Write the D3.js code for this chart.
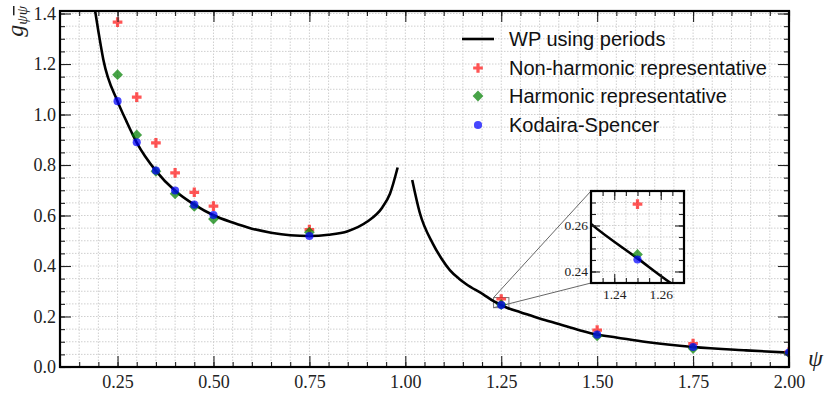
<!DOCTYPE html>
<html>
<head>
<meta charset="utf-8">
<script src="https://cdn.jsdelivr.net/npm/d3@7"></script>
<style>
  body { margin: 0; background: #fff; }
  svg { display: block; }
  .tick text { font-family: "Liberation Serif", serif; fill: #222; }
</style>
</head>
<body>
<svg id="chart" width="830" height="398"></svg>
<script>
// sample points
var xPts = [0.25, 0.30, 0.35, 0.40, 0.45, 0.50, 0.75, 1.25, 1.50, 1.75, 2.00];
var nonHarm = [1.366, 1.069, 0.888, 0.769, 0.692, 0.637, 0.544, 0.2693, 0.146, 0.093, 0.059];
var harm = [1.158, 0.919, 0.775, 0.686, 0.636, 0.586, 0.534, 0.2474, 0.123, 0.073, 0.055];
var kodaira = [1.053, 0.890, 0.778, 0.699, 0.643, 0.602, 0.519, 0.2452, 0.128, 0.079, 0.057];

// WP curve, two branches
var wpLeftX = [0.19, 0.20, 0.213, 0.25, 0.2735, 0.30, 0.35, 0.40, 0.45, 0.50, 0.55, 0.60, 0.65, 0.70, 0.75, 0.80, 0.85, 0.90, 0.94, 0.96, 0.98];
var wpLeftY = [1.425, 1.33, 1.217, 1.052, 0.972, 0.889, 0.777, 0.698, 0.643, 0.601, 0.572, 0.548, 0.532, 0.522, 0.519, 0.524, 0.538, 0.575, 0.632, 0.686, 0.79];
var wpRightX = [1.018, 1.0375, 1.072, 1.095, 1.116, 1.14, 1.159, 1.203, 1.23, 1.25, 1.265, 1.30, 1.35, 1.40, 1.454, 1.50, 1.55, 1.628, 1.75, 1.888, 2.00];
var wpRightY = [0.741, 0.612, 0.488, 0.428, 0.384, 0.350, 0.328, 0.288, 0.2607, 0.2457, 0.2345, 0.217, 0.192, 0.170, 0.146, 0.1285, 0.117, 0.099, 0.0794, 0.066, 0.057];

var xMajor = [0.25, 0.50, 0.75, 1.00, 1.25, 1.50, 1.75, 2.00];
var yMajor = [0.0, 0.2, 0.4, 0.6, 0.8, 1.0, 1.2, 1.4];
var insetXMajor = [1.24, 1.26];
var insetYMajor = [0.24, 0.26];

var legendLabels = ["WP using periods", "Non-harmonic representative", "Harmonic representative", "Kodaira-Spencer"];

var svg = d3.select("#chart");
var L = 60, R = 789, T = 11, B = 367;

var x = d3.scaleLinear().domain([0.1, 2.0]).range([L, R]);
var y = d3.scaleLinear().domain([0, 1.41]).range([B, T]);

function steps(a, b, s) {
    var out = [];
    for (var i = 0; a + i * s <= b + 1e-9; i++) out.push(+(a + i * s).toFixed(4));
    return out;
}
var xMinor = steps(0.1, 2.0, 0.05);
var yMinor = steps(0, 1.4, 0.05);

var redC = "rgba(255,20,20,0.72)",
    greenC = "rgba(0,128,0,0.72)",
    blueC = "rgba(0,0,255,0.72)";

var plusSym = d3.symbol().type(d3.symbolCross).size(52);
var diaSym = d3.symbol().type(d3.symbolSquare).size(58);
var dotSym = d3.symbol().type(d3.symbolCircle).size(52);

svg.append("defs").append("clipPath").attr("id", "clipMain")
    .append("rect").attr("x", L).attr("y", T).attr("width", R - L).attr("height", B - T);

// grid
function drawGrid(g, xs, ys, xv, yv) {
    g.selectAll("line.gx").data(xv).enter().append("line")
        .attr("x1", function (d) { return xs(d); }).attr("x2", function (d) { return xs(d); })
        .attr("y1", ys.range()[0]).attr("y2", ys.range()[1]);
    g.selectAll("line.gy").data(yv).enter().append("line")
        .attr("y1", function (d) { return ys(d); }).attr("y2", function (d) { return ys(d); })
        .attr("x1", xs.range()[0]).attr("x2", xs.range()[1]);
    g.selectAll("line")
        .attr("stroke", "#cfcfcf").attr("stroke-width", 1).attr("stroke-dasharray", "1.5,1.5");
}
drawGrid(svg.append("g"), x, y, xMinor, yMinor);

// inset marker rectangle + connectors
var ix0 = 591, ix1 = 684, iy0 = 191, iy1 = 283;
svg.append("rect")
    .attr("x", x(1.23)).attr("y", y(0.275))
    .attr("width", x(1.27) - x(1.23)).attr("height", y(0.235) - y(0.275))
    .attr("fill", "none").attr("stroke", "#777").attr("stroke-width", 1);
svg.append("line").attr("x1", x(1.23)).attr("y1", y(0.275)).attr("x2", ix0).attr("y2", iy0)
    .attr("stroke", "#666").attr("stroke-width", 1);
svg.append("line").attr("x1", x(1.23)).attr("y1", y(0.235)).attr("x2", ix0).attr("y2", iy1)
    .attr("stroke", "#666").attr("stroke-width", 1);

// curve + points
function drawData(g, xs, ys) {
    var line = d3.line()
        .x(function (d) { return xs(d[0]); })
        .y(function (d) { return ys(d[1]); })
        .curve(d3.curveMonotoneX);
    g.append("path").datum(d3.zip(wpLeftX, wpLeftY)).attr("d", line)
        .attr("fill", "none").attr("stroke", "#000").attr("stroke-width", 2.6);
    g.append("path").datum(d3.zip(wpRightX, wpRightY)).attr("d", line)
        .attr("fill", "none").attr("stroke", "#000").attr("stroke-width", 2.6);

    g.selectAll("path.nh").data(d3.zip(xPts, nonHarm)).enter().append("path")
        .attr("class", "nh").attr("d", plusSym).attr("fill", redC)
        .attr("transform", function (d) { return "translate(" + xs(d[0]) + "," + ys(d[1]) + ")"; });
    g.selectAll("path.h").data(d3.zip(xPts, harm)).enter().append("path")
        .attr("class", "h").attr("d", diaSym).attr("fill", greenC)
        .attr("transform", function (d) { return "translate(" + xs(d[0]) + "," + ys(d[1]) + ") rotate(45)"; });
    g.selectAll("path.ks").data(d3.zip(xPts, kodaira)).enter().append("path")
        .attr("class", "ks").attr("d", dotSym).attr("fill", blueC)
        .attr("transform", function (d) { return "translate(" + xs(d[0]) + "," + ys(d[1]) + ")"; });
}
drawData(svg.append("g").attr("clip-path", "url(#clipMain)"), x, y);

// axes with inward ticks on all sides
function tickAxes(g, xs, ys, xMaj, yMaj, xMin, yMin, majLen, minLen, fs, xfmt, yfmt, xpad, ypad) {
    var x0 = xs.range()[0], x1 = xs.range()[1], y0 = ys.range()[0], y1 = ys.range()[1];
    var specs = [
        [d3.axisBottom(xs).tickValues(xMaj).tickSize(-majLen).tickPadding(xpad).tickFormat(xfmt), "translate(0," + y0 + ")"],
        [d3.axisBottom(xs).tickValues(xMin).tickSize(-minLen).tickFormat(""), "translate(0," + y0 + ")"],
        [d3.axisTop(xs).tickValues(xMaj).tickSize(-majLen).tickFormat(""), "translate(0," + y1 + ")"],
        [d3.axisTop(xs).tickValues(xMin).tickSize(-minLen).tickFormat(""), "translate(0," + y1 + ")"],
        [d3.axisLeft(ys).tickValues(yMaj).tickSize(-majLen).tickPadding(ypad).tickFormat(yfmt), "translate(" + x0 + ",0)"],
        [d3.axisLeft(ys).tickValues(yMin).tickSize(-minLen).tickFormat(""), "translate(" + x0 + ",0)"],
        [d3.axisRight(ys).tickValues(yMaj).tickSize(-majLen).tickFormat(""), "translate(" + x1 + ",0)"],
        [d3.axisRight(ys).tickValues(yMin).tickSize(-minLen).tickFormat(""), "translate(" + x1 + ",0)"]
    ];
    specs.forEach(function (s) {
        var a = g.append("g").attr("transform", s[1]).call(s[0]);
        a.select(".domain").remove();
        a.selectAll(".tick line").attr("stroke", "#222").attr("stroke-width", 1.1);
        a.selectAll(".tick text").attr("font-size", fs);
    });
    g.append("rect").attr("x", x0).attr("y", y1).attr("width", x1 - x0).attr("height", y0 - y1)
        .attr("fill", "none").attr("stroke", "#000").attr("stroke-width", 2.2);
}
tickAxes(svg.append("g"), x, y, xMajor, yMajor, xMinor, yMinor, 11, 5, 18,
    d3.format(".2f"), d3.format(".1f"), 8, 4);

// axis labels
var yl = svg.append("text")
    .attr("transform", "translate(23,6) rotate(-90)")
    .attr("text-anchor", "end")
    .attr("font-family", "Liberation Serif, serif").attr("font-style", "italic").attr("fill", "#222");
yl.append("tspan").attr("font-size", 24).text("g");
yl.append("tspan").attr("font-size", 15).attr("dy", 4).text("ψ");
yl.append("tspan").attr("font-size", 15).attr("text-decoration", "overline").text("ψ");

svg.append("text").attr("x", 808).attr("y", 366)
    .attr("font-family", "Liberation Serif, serif").attr("font-style", "italic")
    .attr("font-size", 24).attr("fill", "#222").text("ψ");

// legend
var lg = svg.append("g");
var rowY = [39, 68, 96, 125];
lg.append("line").attr("x1", 462).attr("x2", 494).attr("y1", rowY[0]).attr("y2", rowY[0])
    .attr("stroke", "#000").attr("stroke-width", 2.6);
lg.append("path").attr("d", plusSym).attr("fill", redC).attr("transform", "translate(478," + rowY[1] + ")");
lg.append("path").attr("d", diaSym).attr("fill", greenC).attr("transform", "translate(478," + rowY[2] + ") rotate(45)");
lg.append("path").attr("d", dotSym).attr("fill", blueC).attr("transform", "translate(478," + rowY[3] + ")");
lg.selectAll("text").data(legendLabels).enter().append("text")
    .attr("x", 509).attr("y", function (d, i) { return rowY[i] + 7; })
    .attr("font-family", "Liberation Sans, Arial, sans-serif").attr("font-size", 20).attr("fill", "#111")
    .text(function (d) { return d; });

// inset
var xi = d3.scaleLinear().domain([1.23, 1.27]).range([ix0, ix1]);
var yi = d3.scaleLinear().domain([0.235, 0.275]).range([iy1, iy0]);
var inset = svg.append("g");
inset.append("defs").append("clipPath").attr("id", "clipInset")
    .append("rect").attr("x", ix0).attr("y", iy0).attr("width", ix1 - ix0).attr("height", iy1 - iy0);
inset.append("rect").attr("x", ix0).attr("y", iy0).attr("width", ix1 - ix0).attr("height", iy1 - iy0)
    .attr("fill", "#fff");
var insXMin = steps(1.23, 1.27, 0.005), insYMin = steps(0.235, 0.275, 0.005);
drawGrid(inset.append("g"), xi, yi, insXMin, insYMin);
drawData(inset.append("g").attr("clip-path", "url(#clipInset)"), xi, yi);
tickAxes(inset.append("g"), xi, yi, insetXMajor, insetYMajor, insXMin, insYMin, 9, 5, 13.5,
    d3.format(".2f"), d3.format(".2f"), 6, 3);
</script>
</body>
</html>
